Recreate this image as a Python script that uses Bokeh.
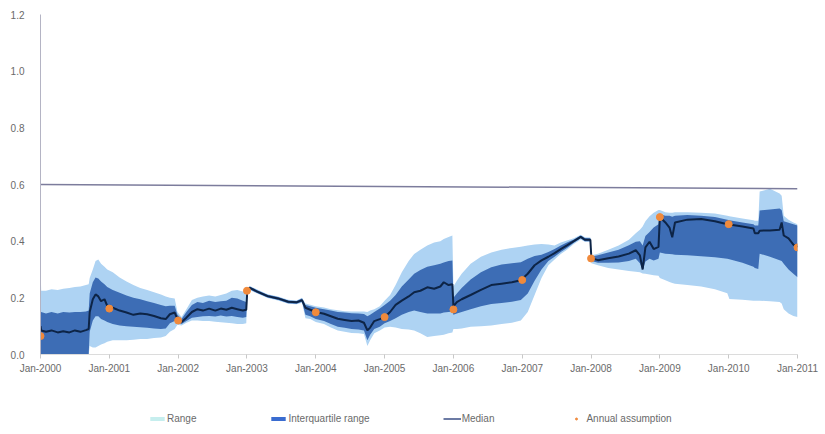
from bokeh.plotting import figure
from bokeh.layouts import column
from bokeh.models import Range1d, FixedTicker, Legend, LegendItem, ColumnDataSource
from bokeh.embed import file_html
from bokeh.resources import INLINE

# Observation dates as decimal years
dates = [
    2000.000, 2000.010, 2000.080, 2000.160, 2000.250, 2000.330, 2000.420, 2000.500,
    2000.580, 2000.660, 2000.700, 2000.715, 2000.760, 2000.800, 2000.840, 2000.880,
    2000.930, 2000.970, 2001.050, 2001.150, 2001.250, 2001.350, 2001.450, 2001.550,
    2001.650, 2001.750, 2001.820, 2001.880, 2001.950, 2001.990, 2002.050, 2002.120,
    2002.200, 2002.280, 2002.360, 2002.450, 2002.540, 2002.620, 2002.700, 2002.780,
    2002.860, 2002.940, 2002.990, 2003.005, 2003.040, 2003.150, 2003.300, 2003.450,
    2003.600, 2003.720, 2003.800, 2003.850, 2003.920, 2004.000, 2004.120, 2004.220,
    2004.320, 2004.420, 2004.520, 2004.620, 2004.700, 2004.750, 2004.790, 2004.850,
    2004.930, 2005.000, 2005.080, 2005.160, 2005.250, 2005.350, 2005.430, 2005.520,
    2005.620, 2005.720, 2005.810, 2005.860, 2005.930, 2005.985, 2006.000, 2006.050,
    2006.120, 2006.250, 2006.400, 2006.550, 2006.700, 2006.850, 2006.980, 2007.080,
    2007.180, 2007.280, 2007.380, 2007.470, 2007.560, 2007.650, 2007.750, 2007.850,
    2007.910, 2007.990, 2008.005, 2008.100, 2008.250, 2008.400, 2008.550, 2008.650,
    2008.710, 2008.750, 2008.790, 2008.850, 2008.910, 2008.980, 2009.000, 2009.080,
    2009.140, 2009.180, 2009.220, 2009.400, 2009.600, 2009.800, 2009.980, 2010.010,
    2010.200, 2010.360, 2010.380, 2010.430, 2010.450, 2010.600, 2010.740, 2010.770,
    2010.800, 2010.870, 2010.940, 2011.000,
]

median = [
    0.100, 0.085, 0.080, 0.085, 0.078, 0.082, 0.078, 0.085,
    0.080, 0.086, 0.090, 0.150, 0.195, 0.212, 0.205, 0.188,
    0.195, 0.172, 0.165, 0.155, 0.148, 0.140, 0.145, 0.142,
    0.136, 0.128, 0.125, 0.142, 0.148, 0.125, 0.115, 0.130,
    0.150, 0.160, 0.155, 0.162, 0.155, 0.162, 0.158, 0.165,
    0.160, 0.155, 0.158, 0.225, 0.235, 0.222, 0.206, 0.198,
    0.186, 0.184, 0.192, 0.165, 0.158, 0.150, 0.144, 0.135,
    0.126, 0.122, 0.118, 0.120, 0.112, 0.085, 0.095, 0.118,
    0.125, 0.132, 0.150, 0.175, 0.190, 0.205, 0.220, 0.225,
    0.237, 0.232, 0.240, 0.255, 0.245, 0.248, 0.170, 0.185,
    0.195, 0.210, 0.228, 0.245, 0.250, 0.255, 0.262, 0.285,
    0.315, 0.332, 0.345, 0.358, 0.372, 0.385, 0.400, 0.415,
    0.405, 0.405, 0.340, 0.333, 0.340, 0.346, 0.356, 0.368,
    0.350, 0.300, 0.378, 0.398, 0.372, 0.380, 0.485, 0.466,
    0.448, 0.414, 0.466, 0.476, 0.478, 0.470, 0.460, 0.459,
    0.452, 0.445, 0.428, 0.428, 0.437, 0.438, 0.440, 0.466,
    0.420, 0.410, 0.388, 0.380,
]

quartile_low = [
    0.000, 0.000, 0.000, 0.000, 0.000, 0.000, 0.000, 0.000,
    0.000, 0.000, 0.000, 0.080, 0.120, 0.135, 0.135, 0.125,
    0.120, 0.115, 0.108, 0.102, 0.100, 0.098, 0.096, 0.094,
    0.092, 0.090, 0.092, 0.110, 0.118, 0.112, 0.108, 0.118,
    0.130, 0.132, 0.135, 0.136, 0.134, 0.138, 0.134, 0.136,
    0.132, 0.130, 0.132, 0.220, 0.230, 0.217, 0.201, 0.193,
    0.181, 0.179, 0.186, 0.140, 0.135, 0.125, 0.118, 0.108,
    0.098, 0.094, 0.090, 0.088, 0.085, 0.050, 0.070, 0.090,
    0.098, 0.110, 0.118, 0.128, 0.140, 0.150, 0.155, 0.150,
    0.145, 0.145, 0.145, 0.148, 0.150, 0.152, 0.140, 0.145,
    0.150, 0.160, 0.170, 0.178, 0.182, 0.186, 0.192, 0.215,
    0.260, 0.300, 0.330, 0.345, 0.362, 0.376, 0.394, 0.410,
    0.400, 0.400, 0.330, 0.324, 0.324, 0.325, 0.330, 0.338,
    0.322, 0.298, 0.328, 0.338, 0.332, 0.338, 0.360, 0.356,
    0.355, 0.354, 0.352, 0.350, 0.347, 0.343, 0.338, 0.336,
    0.324, 0.310, 0.305, 0.302, 0.356, 0.345, 0.333, 0.330,
    0.320, 0.300, 0.285, 0.273,
]

quartile_high = [
    0.150, 0.150, 0.145, 0.150, 0.145, 0.150, 0.148, 0.150,
    0.150, 0.152, 0.155, 0.215, 0.255, 0.272, 0.268, 0.258,
    0.248, 0.238, 0.228, 0.218, 0.208, 0.200, 0.195, 0.188,
    0.182, 0.175, 0.170, 0.172, 0.172, 0.140, 0.125, 0.150,
    0.175, 0.185, 0.182, 0.190, 0.185, 0.188, 0.190, 0.200,
    0.198, 0.190, 0.185, 0.230, 0.240, 0.227, 0.211, 0.203,
    0.191, 0.189, 0.198, 0.175, 0.170, 0.165, 0.160, 0.155,
    0.150, 0.148, 0.146, 0.145, 0.143, 0.135, 0.140, 0.150,
    0.162, 0.175, 0.190, 0.210, 0.240, 0.265, 0.285, 0.298,
    0.310, 0.315, 0.320, 0.325, 0.330, 0.332, 0.200, 0.215,
    0.235, 0.265, 0.290, 0.308, 0.318, 0.322, 0.326, 0.338,
    0.348, 0.352, 0.362, 0.372, 0.385, 0.395, 0.406, 0.420,
    0.411, 0.410, 0.346, 0.350, 0.360, 0.370, 0.386, 0.398,
    0.400, 0.385, 0.418, 0.432, 0.448, 0.460, 0.495, 0.490,
    0.490, 0.486, 0.490, 0.492, 0.490, 0.485, 0.476, 0.474,
    0.466, 0.460, 0.455, 0.455, 0.508, 0.512, 0.515, 0.510,
    0.470, 0.465, 0.460, 0.455,
]

range_low = [
    0.000, 0.000, 0.000, 0.000, 0.000, 0.000, 0.000, 0.000,
    0.000, 0.000, 0.000, 0.030, 0.025, 0.025, 0.030, 0.035,
    0.040, 0.045, 0.050, 0.050, 0.050, 0.052, 0.055, 0.055,
    0.058, 0.060, 0.065, 0.080, 0.090, 0.105, 0.102, 0.112,
    0.120, 0.120, 0.118, 0.118, 0.116, 0.114, 0.112, 0.110,
    0.108, 0.108, 0.110, 0.218, 0.228, 0.215, 0.199, 0.191,
    0.179, 0.177, 0.183, 0.128, 0.125, 0.115, 0.108, 0.095,
    0.085, 0.080, 0.076, 0.075, 0.072, 0.030, 0.050, 0.075,
    0.085, 0.095, 0.098, 0.095, 0.090, 0.088, 0.085, 0.075,
    0.062, 0.065, 0.068, 0.070, 0.075, 0.078, 0.090, 0.090,
    0.092, 0.098, 0.100, 0.102, 0.108, 0.112, 0.120, 0.150,
    0.210, 0.270, 0.315, 0.335, 0.355, 0.370, 0.390, 0.406,
    0.398, 0.398, 0.322, 0.315, 0.305, 0.300, 0.295, 0.292,
    0.290, 0.286, 0.285, 0.282, 0.280, 0.278, 0.270, 0.262,
    0.256, 0.252, 0.250, 0.245, 0.240, 0.230, 0.216, 0.196,
    0.193, 0.190, 0.190, 0.190, 0.190, 0.188, 0.185, 0.180,
    0.160, 0.145, 0.136, 0.132,
]

range_high = [
    0.310, 0.225, 0.225, 0.230, 0.228, 0.232, 0.235, 0.238,
    0.240, 0.245, 0.248, 0.270, 0.300, 0.330, 0.335, 0.320,
    0.310, 0.300, 0.290, 0.272, 0.258, 0.245, 0.235, 0.228,
    0.220, 0.212, 0.205, 0.200, 0.198, 0.150, 0.132, 0.160,
    0.192, 0.200, 0.205, 0.208, 0.205, 0.210, 0.215, 0.225,
    0.228, 0.222, 0.215, 0.232, 0.242, 0.229, 0.213, 0.205,
    0.193, 0.191, 0.200, 0.180, 0.176, 0.170, 0.166, 0.160,
    0.156, 0.153, 0.152, 0.152, 0.152, 0.150, 0.155, 0.160,
    0.170, 0.190, 0.210, 0.245, 0.290, 0.330, 0.355, 0.370,
    0.385, 0.395, 0.400, 0.408, 0.415, 0.420, 0.240, 0.260,
    0.285, 0.320, 0.345, 0.360, 0.370, 0.376, 0.380, 0.385,
    0.388, 0.390, 0.388, 0.385, 0.395, 0.402, 0.410, 0.423,
    0.414, 0.413, 0.350, 0.356, 0.370, 0.385, 0.405, 0.428,
    0.440, 0.452, 0.470, 0.488, 0.500, 0.510, 0.510, 0.502,
    0.500, 0.500, 0.502, 0.502, 0.500, 0.498, 0.490, 0.488,
    0.480, 0.474, 0.472, 0.472, 0.575, 0.585, 0.568, 0.560,
    0.490, 0.476, 0.466, 0.460,
]

# Annual assumption at the start of each year
assumption_years = [2000, 2001, 2002, 2003, 2004, 2005, 2006, 2007, 2008, 2009, 2010, 2011]
assumption_values = [0.065, 0.162, 0.120, 0.225, 0.149, 0.132, 0.159, 0.263, 0.339, 0.485, 0.460, 0.378]

# Reference ceiling level
ceiling_dates = [2000, 2011]
ceiling_level = [0.600, 0.585]

# Axis ticks and labels
x_ticks = [2000, 2001, 2002, 2003, 2004, 2005, 2006, 2007, 2008, 2009, 2010, 2011]
x_labels = ["Jan-2000", "Jan-2001", "Jan-2002", "Jan-2003", "Jan-2004", "Jan-2005",
            "Jan-2006", "Jan-2007", "Jan-2008", "Jan-2009", "Jan-2010", "Jan-2011"]
y_ticks = [0.0, 0.2, 0.4, 0.6, 0.8, 1.0, 1.2]
y_labels = ["0.0", "0.2", "0.4", "0.6", "0.8", "1.0", "1.2"]

FONT = "Liberation Sans"
RANGE_COLOR = "#aed3f3"
RANGE_KEY_COLOR = "#c6eeee"
IQR_COLOR = "#3d6db5"
IQR_KEY_COLOR = "#3a6cd0"
MEDIAN_COLOR = "#0d2446"
MEDIAN_KEY_COLOR = "#3b4f86"
POINT_COLOR = "#f08a3c"
TEXT_COLOR = "#6a6a6a"
NAN = float("nan")

src = ColumnDataSource(dict(t=dates, med=median, q1=quartile_low, q3=quartile_high,
                            lo=range_low, hi=range_high))

p = figure(width=825, height=395, output_backend="svg", toolbar_location=None,
           x_range=Range1d(2000, 2011), y_range=Range1d(0, 1.2),
           min_border_left=40, min_border_right=28, min_border_top=14,
           min_border_bottom=41)
p.outline_line_color = None
p.xgrid.visible = False
p.ygrid.visible = False
p.background_fill_color = "white"
p.border_fill_color = "white"

p.varea(x="t", y1="lo", y2="hi", source=src, fill_color=RANGE_COLOR)
p.varea(x="t", y1="q1", y2="q3", source=src, fill_color=IQR_COLOR)
p.line(x="t", y="med", source=src, line_color=MEDIAN_COLOR, line_width=2)
p.scatter(x=assumption_years, y=assumption_values, size=7,
          fill_color=POINT_COLOR, line_color=POINT_COLOR)
p.line(x=ceiling_dates, y=ceiling_level, line_color="#7c7c9c", line_width=1.5)

# x axis
xa = p.xaxis[0]
xa.ticker = FixedTicker(ticks=x_ticks)
xa.major_label_overrides = {t: s for t, s in zip(x_ticks, x_labels)}
xa.axis_line_color = "#dcdcdc"
xa.major_tick_line_color = "#c8c8c8"
xa.major_tick_in = 0
xa.major_tick_out = 4
xa.minor_tick_line_color = None
xa.major_label_text_font = FONT
xa.major_label_text_font_size = "10px"
xa.major_label_text_color = TEXT_COLOR
xa.major_label_standoff = 4

# y axis
ya = p.yaxis[0]
ya.ticker = FixedTicker(ticks=y_ticks)
ya.major_label_overrides = {t: s for t, s in zip(y_ticks, y_labels)}
ya.axis_line_color = "#b4b4c4"
ya.major_tick_line_color = None
ya.minor_tick_line_color = None
ya.major_label_text_font = FONT
ya.major_label_text_font_size = "10px"
ya.major_label_text_color = TEXT_COLOR
ya.major_label_standoff = 10

# Key strip under the chart; its glyphs carry only the styles shown in the key
k = figure(width=825, height=39, output_backend="svg", toolbar_location=None,
           x_range=Range1d(0, 1), y_range=Range1d(0, 1), min_border=0)
k.axis.visible = False
k.grid.visible = False
k.outline_line_color = None
k.background_fill_color = "white"
k.border_fill_color = "white"

key_range = k.varea(x=[NAN], y1=[NAN], y2=[NAN], fill_color=RANGE_KEY_COLOR)
key_iqr = k.varea(x=[NAN], y1=[NAN], y2=[NAN], fill_color=IQR_KEY_COLOR)
key_med = k.line(x=[NAN], y=[NAN], line_color=MEDIAN_KEY_COLOR, line_width=1.5)
key_pts = k.scatter(x=[NAN], y=[NAN], size=4, fill_color=POINT_COLOR,
                    line_color=POINT_COLOR)

legend = Legend(items=[
    LegendItem(label="Range", renderers=[key_range]),
    LegendItem(label="Interquartile range", renderers=[key_iqr]),
    LegendItem(label="Median", renderers=[key_med]),
    LegendItem(label="Annual assumption", renderers=[key_pts]),
], orientation="horizontal", location=(108, 10), spacing=73,
    glyph_width=18, glyph_height=5, label_standoff=1, label_height=10,
    label_text_font=FONT, label_text_font_size="10px", label_text_color=TEXT_COLOR,
    border_line_color=None, background_fill_alpha=0, padding=0, margin=0)
k.add_layout(legend, "center")

page = column(p, k, spacing=0)
open("out.html", "w").write(file_html(page, INLINE))
